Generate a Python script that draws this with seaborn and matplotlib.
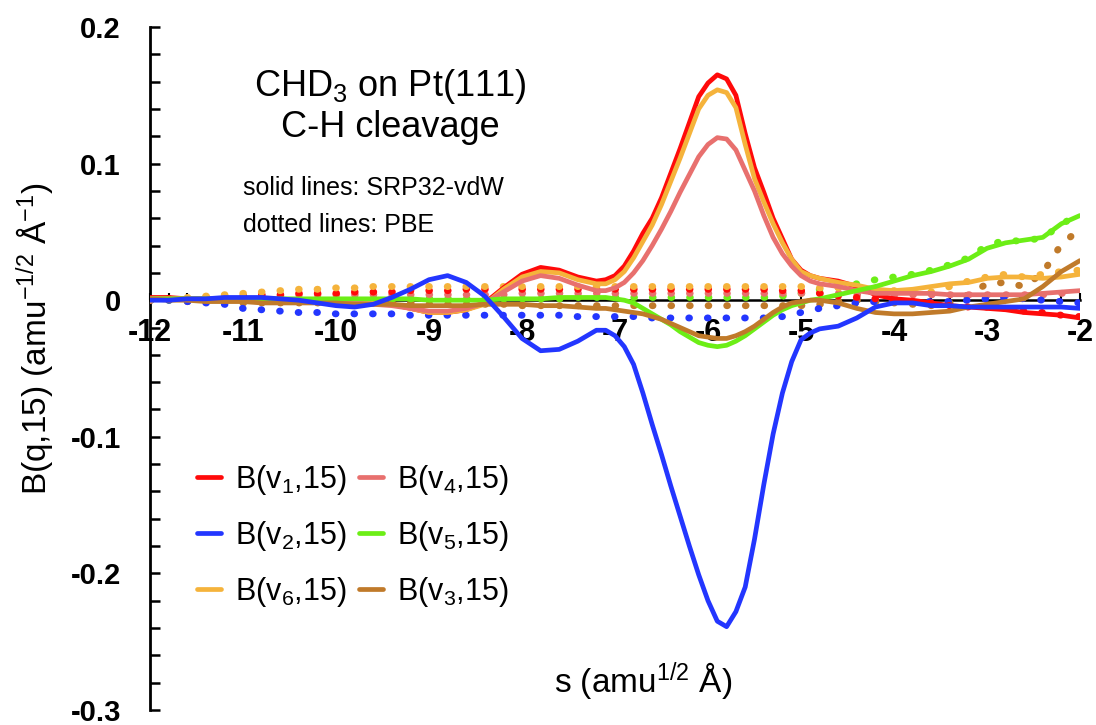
import numpy as np
import matplotlib
matplotlib.use("Agg")
import matplotlib.pyplot as plt
from matplotlib.lines import Line2D
from matplotlib.ticker import MultipleLocator
import seaborn as sns

# ---------------- data ----------------
s_solid = [-12.0, -11.8, -11.6, -11.4, -11.2, -11.0, -10.8, -10.6, -10.4, -10.2, -10.0, -9.8,
           -9.6, -9.4, -9.2, -9.0, -8.8, -8.6, -8.4, -8.2, -8.0, -7.8, -7.6, -7.4,
           -7.2, -7.1, -7.0, -6.9, -6.8, -6.7, -6.6, -6.5, -6.4, -6.3, -6.2, -6.1,
           -6.0, -5.9, -5.8, -5.7, -5.6, -5.5, -5.4, -5.3, -5.2, -5.1, -5.0, -4.9,
           -4.8, -4.6, -4.4, -4.2, -4.0, -3.8, -3.6, -3.4, -3.2, -3.0, -2.8, -2.6, -2.4, -2.2, -2.0]

v1_srp = [0.002, 0.002, 0.001, 0.001, 0.001, 0.001, 0.001, 0.000, 0.000, 0.000, -0.001, -0.001,
          -0.002, -0.003, -0.006, -0.009, -0.009, -0.007, -0.002, 0.009, 0.019, 0.024, 0.022, 0.017,
          0.014, 0.015, 0.018, 0.025, 0.036, 0.049, 0.060, 0.075, 0.093, 0.111, 0.130, 0.149,
          0.159, 0.165, 0.162, 0.150, 0.122, 0.097, 0.079, 0.060, 0.045, 0.030, 0.022, 0.018,
          0.016, 0.014, 0.010, 0.004, 0.001, 0.000, -0.002, -0.004, -0.005, -0.006, -0.007, -0.009, -0.010, -0.011, -0.013]
v6_srp = [0.001, 0.001, 0.001, 0.001, 0.001, 0.001, 0.001, 0.000, 0.000, 0.000, -0.001, -0.001,
          -0.002, -0.003, -0.006, -0.009, -0.009, -0.007, -0.003, 0.008, 0.017, 0.021, 0.020, 0.015,
          0.012, 0.012, 0.015, 0.021, 0.031, 0.043, 0.055, 0.070, 0.087, 0.104, 0.122, 0.140,
          0.150, 0.154, 0.152, 0.141, 0.114, 0.089, 0.072, 0.056, 0.042, 0.030, 0.021, 0.018,
          0.016, 0.013, 0.011, 0.008, 0.007, 0.008, 0.010, 0.012, 0.013, 0.016, 0.017, 0.017, 0.016, 0.017, 0.019]
v4_srp = [0.001, 0.001, 0.001, 0.001, 0.001, 0.000, 0.000, 0.000, 0.000, -0.001, -0.001, -0.002,
          -0.003, -0.004, -0.006, -0.008, -0.008, -0.006, -0.002, 0.006, 0.014, 0.018, 0.016, 0.011,
          0.007, 0.007, 0.009, 0.013, 0.020, 0.029, 0.040, 0.052, 0.065, 0.079, 0.092, 0.105,
          0.114, 0.119, 0.118, 0.110, 0.095, 0.080, 0.062, 0.046, 0.034, 0.025, 0.018, 0.014,
          0.012, 0.010, 0.007, 0.005, 0.005, 0.005, 0.005, 0.004, 0.004, 0.004, 0.004, 0.004, 0.005, 0.006, 0.007]
v5_srp = [0.001, 0.001, 0.001, 0.001, 0.001, 0.001, 0.001, 0.001, 0.001, 0.001, 0.001, 0.001,
          0.001, 0.001, 0.001, 0.000, 0.000, 0.000, 0.000, 0.001, 0.001, 0.001, 0.002, 0.002,
          0.002, 0.002, 0.001, 0.000, -0.002, -0.006, -0.010, -0.014, -0.018, -0.023, -0.027, -0.031,
          -0.033, -0.034, -0.033, -0.030, -0.026, -0.021, -0.016, -0.011, -0.007, -0.004, -0.002, 0.000,
          0.001, 0.004, 0.007, 0.010, 0.014, 0.018, 0.021, 0.025, 0.030, 0.038, 0.042, 0.044, 0.046, 0.056, 0.062]
v3_srp = [0.001, 0.000, 0.000, -0.001, -0.001, -0.001, -0.002, -0.002, -0.002, -0.002, -0.002, -0.003,
          -0.003, -0.003, -0.004, -0.004, -0.004, -0.004, -0.003, -0.003, -0.003, -0.004, -0.004, -0.005,
          -0.006, -0.006, -0.007, -0.008, -0.009, -0.010, -0.012, -0.014, -0.017, -0.020, -0.023, -0.026,
          -0.027, -0.028, -0.028, -0.026, -0.023, -0.019, -0.014, -0.009, -0.005, -0.002, -0.001, 0.000,
          0.000, -0.002, -0.006, -0.009, -0.010, -0.010, -0.009, -0.008, -0.005, -0.003, -0.001, 0.001, 0.010, 0.021, 0.029]
v2_srp = [0.000, 0.000, 0.001, 0.001, 0.002, 0.002, 0.002, 0.001, 0.000, -0.002, -0.004, -0.005,
          -0.003, 0.002, 0.008, 0.015, 0.018, 0.013, 0.003, -0.012, -0.028, -0.037, -0.036, -0.030,
          -0.022, -0.022, -0.026, -0.034, -0.047, -0.068, -0.091, -0.113, -0.136, -0.158, -0.180, -0.201,
          -0.220, -0.235, -0.239, -0.228, -0.210, -0.175, -0.135, -0.098, -0.068, -0.045, -0.029, -0.024,
          -0.021, -0.019, -0.013, -0.005, -0.002, -0.002, -0.004, -0.004, -0.005, -0.005, -0.005, -0.005, -0.005, -0.005, -0.006]

s_pbe = [-12.0, -11.8, -11.6, -11.4, -11.2, -11.0, -10.8, -10.6, -10.4, -10.2,
         -10.0, -9.8, -9.6, -9.4, -9.2, -9.0, -8.8, -8.6, -8.4, -8.2,
         -8.0, -7.8, -7.6, -7.4, -7.2, -7.0, -6.8, -6.6, -6.4, -6.2,
         -6.0, -5.8, -5.6, -5.4, -5.2, -5.0, -4.8, -4.6, -4.4, -4.2,
         -4.0, -3.8, -3.6, -3.4, -3.2, -3.0, -2.8, -2.6, -2.4, -2.2, -2.0]
v1_pbe = [0.000, 0.001, 0.001, 0.002, 0.003, 0.003, 0.004, 0.004, 0.005, 0.005,
          0.005, 0.006, 0.006, 0.006, 0.007, 0.007, 0.007, 0.008, 0.008, 0.008,
          0.008, 0.008, 0.008, 0.008, 0.008, 0.008, 0.008, 0.008, 0.008, 0.008,
          0.008, 0.008, 0.008, 0.008, 0.007, 0.007, 0.005, 0.003, 0.002, 0.001,
          0.000, -0.001, -0.002, -0.004, -0.005, -0.005, -0.006, -0.008, -0.009, -0.011, -0.012]
v6_pbe = [0.000, 0.001, 0.002, 0.003, 0.004, 0.005, 0.006, 0.007, 0.008, 0.008,
          0.009, 0.009, 0.010, 0.010, 0.010, 0.010, 0.010, 0.010, 0.010, 0.010,
          0.010, 0.010, 0.010, 0.010, 0.010, 0.010, 0.010, 0.010, 0.010, 0.010,
          0.010, 0.010, 0.010, 0.010, 0.010, 0.010, 0.009, 0.009, 0.009, 0.009,
          0.007, 0.006, 0.006, 0.010, 0.014, 0.017, 0.019, 0.017, 0.019, 0.021, 0.022]
v4_pbe = [0.000, 0.001, 0.001, 0.002, 0.002, 0.003, 0.003, 0.003, 0.004, 0.004,
          0.004, 0.004, 0.004, 0.004, 0.004, 0.004, 0.004, 0.004, 0.004, 0.004,
          0.005, 0.005, 0.005, 0.005, 0.005, 0.005, 0.005, 0.005, 0.005, 0.005,
          0.005, 0.005, 0.005, 0.005, 0.005, 0.005, 0.005, 0.005, 0.004, 0.004,
          0.004, 0.004, 0.004, 0.004, 0.004, 0.004, 0.004, 0.004, 0.004, 0.005, 0.005]
v5_pbe = [0.000, 0.000, 0.000, 0.000, 0.000, 0.000, 0.000, 0.001, 0.001, 0.001,
          0.001, 0.001, 0.001, 0.001, 0.001, 0.001, 0.001, 0.001, 0.001, 0.001,
          0.001, 0.001, 0.001, 0.002, 0.002, 0.002, 0.002, 0.002, 0.002, 0.002,
          0.002, 0.002, 0.002, 0.002, 0.003, 0.005, 0.008, 0.010, 0.012, 0.015,
          0.017, 0.019, 0.022, 0.026, 0.031, 0.040, 0.044, 0.043, 0.046, 0.055, 0.065]
v3_pbe = [0.000, 0.000, -0.001, -0.001, -0.001, -0.002, -0.002, -0.002, -0.002, -0.002,
          -0.002, -0.002, -0.002, -0.002, -0.002, -0.003, -0.003, -0.003, -0.003, -0.003,
          -0.004, -0.004, -0.004, -0.004, -0.004, -0.004, -0.004, -0.004, -0.004, -0.004,
          -0.004, -0.004, -0.004, -0.004, -0.004, -0.004, -0.003, -0.001, 0.000, -0.001,
          -0.002, -0.003, -0.004, -0.002, 0.004, 0.012, 0.013, 0.010, 0.020, 0.041, 0.052]
v2_pbe = [0.000, 0.000, -0.001, -0.002, -0.003, -0.006, -0.007, -0.008, -0.009, -0.009,
          -0.010, -0.010, -0.010, -0.010, -0.011, -0.011, -0.011, -0.011, -0.011, -0.011,
          -0.011, -0.011, -0.011, -0.012, -0.012, -0.012, -0.012, -0.013, -0.013, -0.013,
          -0.013, -0.013, -0.013, -0.013, -0.012, -0.009, -0.006, -0.004, -0.002, -0.001,
          0.000, -0.001, -0.001, -0.001, 0.000, 0.001, 0.002, 0.001, 0.000, -0.001, -0.002]

legend_labels = ["B(v$_1$,15)", "B(v$_2$,15)", "B(v$_6$,15)",
                 "B(v$_4$,15)", "B(v$_5$,15)", "B(v$_3$,15)"]
x_ticks = [-12, -11, -10, -9, -8, -7, -6, -5, -4, -3, -2]
x_tick_labels = ["-12", "-11", "-10", "-9", "-8", "-7", "-6", "-5", "-4", "-3", "-2"]
y_ticks = [-0.3, -0.2, -0.1, 0.0, 0.1, 0.2]
y_tick_labels = ["-0.3", "-0.2", "-0.1", "0", "0.1", "0.2"]

# ---------------- style ----------------
colors = {"v1": "#ff0a0a", "v2": "#2336ff", "v6": "#f5b33b",
          "v4": "#e8706e", "v5": "#6cee16", "v3": "#c07a2a"}

sns.set_theme(style="white")
plt.rcParams['font.family'] = ['Liberation Sans', 'DejaVu Sans']
plt.rcParams['mathtext.fontset'] = 'custom'
plt.rcParams['mathtext.rm'] = 'Liberation Sans'
plt.rcParams['mathtext.it'] = 'Liberation Sans:italic'
plt.rcParams['mathtext.bf'] = 'Liberation Sans:bold'
plt.rcParams['axes.unicode_minus'] = False
plt.rcParams['text.color'] = 'black'
plt.rcParams['lines.dash_capstyle'] = 'round'

W, H = 1096, 725
fig = plt.figure(figsize=(W / 100, H / 100), dpi=100)
ax = fig.add_axes([150 / W, 15 / H, 930 / W, 683 / H])
ax.set_facecolor('white')

pbe = [("v3", v3_pbe), ("v5", v5_pbe), ("v4", v4_pbe), ("v2", v2_pbe), ("v1", v1_pbe), ("v6", v6_pbe)]
for key, vals in pbe:
    sns.lineplot(x=s_pbe, y=vals, ax=ax, color=colors[key], lw=5.0,
                 errorbar=None, legend=False, zorder=3)
    ln = ax.lines[-1]
    ln.set_linewidth(5.0)
    ln.set_linestyle((0, (0.1, 2.58)))
    ln.set_dash_capstyle('round')

srp = [("v1", v1_srp), ("v6", v6_srp), ("v4", v4_srp), ("v5", v5_srp), ("v3", v3_srp), ("v2", v2_srp)]
for key, vals in srp:
    sns.lineplot(x=s_solid, y=vals, ax=ax, color=colors[key], lw=3.4,
                 errorbar=None, legend=False, zorder=4)
    ln = ax.lines[-1]
    ln.set_solid_capstyle('round')
    ln.set_solid_joinstyle('round')

ax.set_xlim(-12, -2)
ax.set_ylim(-0.3, 0.2)
for side in ("top", "right"):
    ax.spines[side].set_visible(False)
ax.spines['bottom'].set_position(('data', 0))
ax.spines['bottom'].set_linewidth(1.8)
ax.spines['left'].set_linewidth(2.0)
ax.spines['bottom'].set_color('black')
ax.spines['left'].set_color('black')

ax.set_xticks(x_ticks)
ax.set_xticklabels(x_tick_labels, fontweight='bold')
ax.set_yticks(y_ticks)
ax.set_yticklabels(y_tick_labels, fontweight='bold')
ax.xaxis.set_minor_locator(MultipleLocator(0.2))
ax.yaxis.set_minor_locator(MultipleLocator(0.02))
ax.tick_params(axis='x', which='both', direction='in', length=5, width=1.5,
               color='black', pad=13, labelsize=22, labelcolor='black', bottom=True)
ax.tick_params(axis='y', which='both', direction='in', length=7, width=1.8,
               color='black', pad=21, labelsize=21, labelcolor='black', left=True)

ax.set_xlabel("s (amu$^{1/2}$ Å)", fontsize=24, color='black')
ax.xaxis.set_label_coords(0.530, 0.041)
ax.xaxis.label.set_va('center')
ax.set_ylabel("B(q,15) (amu$^{-1/2}$ Å$^{-1}$)", fontsize=24, color='black')
ax.yaxis.set_label_coords(-0.100, 0.543)

handles = [Line2D([0], [0], color=colors[k], lw=3.4) for k in ["v1", "v2", "v6", "v4", "v5", "v3"]]
ax.legend(handles, legend_labels, ncol=2, frameon=False, loc='upper left',
          bbox_to_anchor=(197 / W, 1 - 463 / H), bbox_transform=fig.transFigure,
          borderpad=0, borderaxespad=0, handlelength=0.8, handletextpad=0.45,
          columnspacing=0.4, labelspacing=0.72, fontsize=22)

fig.text(390 / W, 1 - 96 / H, "CHD$_3$ on Pt(111)", ha='center', va='baseline', fontsize=26)
fig.text(390 / W, 1 - 137 / H, "C-H cleavage", ha='center', va='baseline', fontsize=26)
fig.text(243 / W, 1 - 195 / H, "solid lines: SRP32-vdW", ha='left', va='baseline', fontsize=18)
fig.text(243 / W, 1 - 232 / H, "dotted lines: PBE", ha='left', va='baseline', fontsize=18)

fig.savefig("out.png", dpi=100, facecolor='white')
